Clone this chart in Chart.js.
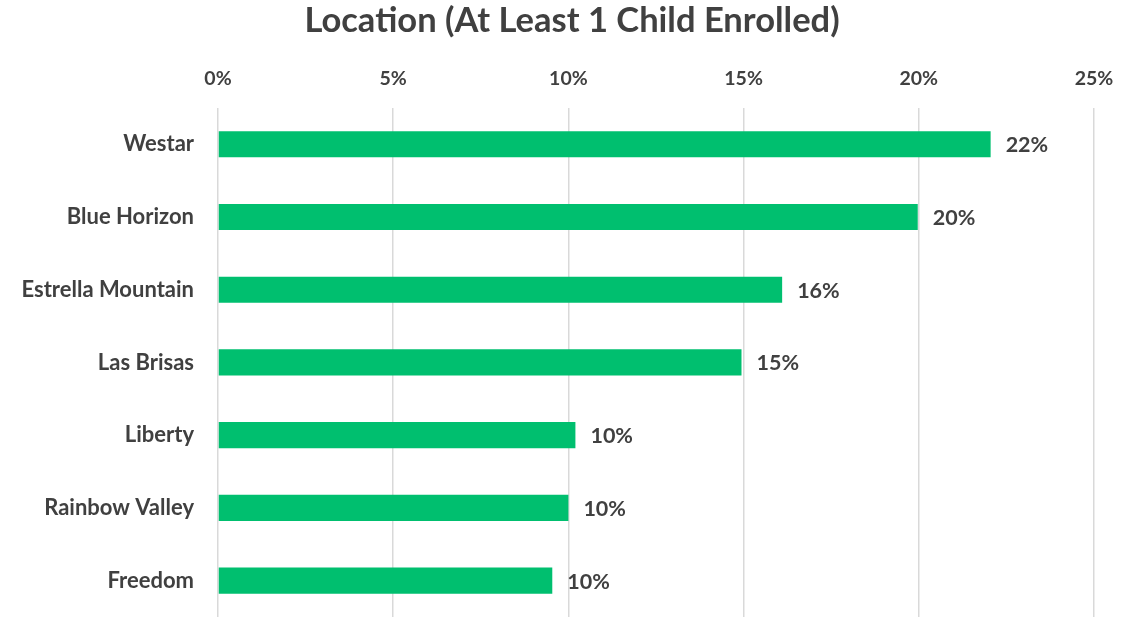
<!DOCTYPE html>
<html>
<head>
<meta charset="utf-8">
<script src="https://cdn.jsdelivr.net/npm/chart.js@4/dist/chart.umd.min.js"></script>
<style>
  html, body { margin: 0; padding: 0; background: #fff; overflow: hidden; }
  canvas { display: block; }
</style>
</head>
<body>
<canvas id="chart" width="1132" height="617"></canvas>
<script>
const locations = ["Westar", "Blue Horizon", "Estrella Mountain", "Las Brisas", "Liberty", "Rainbow Valley", "Freedom"];
const enrolledPct = [22.05, 19.97, 16.1, 14.94, 10.2, 10.0, 9.54];
const tickValues = [0, 5, 10, 15, 20, 25];

const FONT = "Lato";
const TEXT = "#404040";

// value labels to the right of each bar
const barLabels = {
  id: "barLabels",
  afterLayout(chart) {
    // title in the original is centred a bit right of the canvas middle
    if (chart.titleBlock) chart.titleBlock.left = 50;
  },
  afterDatasetsDraw(chart) {
    const ctx = chart.ctx;
    const meta = chart.getDatasetMeta(0);
    ctx.save();
    ctx.font = "bold 21.5px " + FONT;
    ctx.fillStyle = TEXT;
    ctx.textAlign = "left";
    ctx.textBaseline = "middle";
    meta.data.forEach((bar, i) => {
      ctx.fillText(Math.round(enrolledPct[i]) + "%", bar.x + 15, bar.y + 1);
    });
    ctx.restore();
  }
};

new Chart(document.getElementById("chart"), {
  type: "bar",
  data: {
    labels: locations,
    datasets: [{
      data: enrolledPct,
      backgroundColor: "#00BF6F",
      barPercentage: 0.36,
      categoryPercentage: 1
    }]
  },
  options: {
    indexAxis: "y",
    responsive: false,
    animation: false,
    layout: { padding: { left: 0, right: 38, top: 0, bottom: 0 } },
    plugins: {
      legend: { display: false },
      tooltip: { enabled: false },
      title: {
        display: true,
        text: "Location (At Least 1 Child Enrolled)",
        color: TEXT,
        font: { family: FONT, size: 34.5, weight: "bold" },
        padding: { top: 0, bottom: 0 }
      }
    },
    scales: {
      x: {
        position: "top",
        min: 0,
        max: 25,
        afterBuildTicks(scale) {
          scale.ticks = tickValues.map(v => ({ value: v }));
        },
        afterFit(scale) { scale.height = 66.5; },
        ticks: {
          color: TEXT,
          font: { family: FONT, size: 19.5, weight: "bold" },
          padding: 17,
          callback: v => v + "%"
        },
        grid: { color: "#D9D9D9", lineWidth: 1.5, drawTicks: false },
        border: { display: false }
      },
      y: {
        afterFit(scale) {
          scale.width = 218;
          scale.paddingTop = 0;
          scale.paddingBottom = 0;
        },
        ticks: {
          color: TEXT,
          font: { family: FONT, size: 22, weight: "bold" },
          padding: 24
        },
        grid: { display: false, drawTicks: false },
        border: { display: false }
      }
    }
  },
  plugins: [barLabels]
});
</script>
</body>
</html>
